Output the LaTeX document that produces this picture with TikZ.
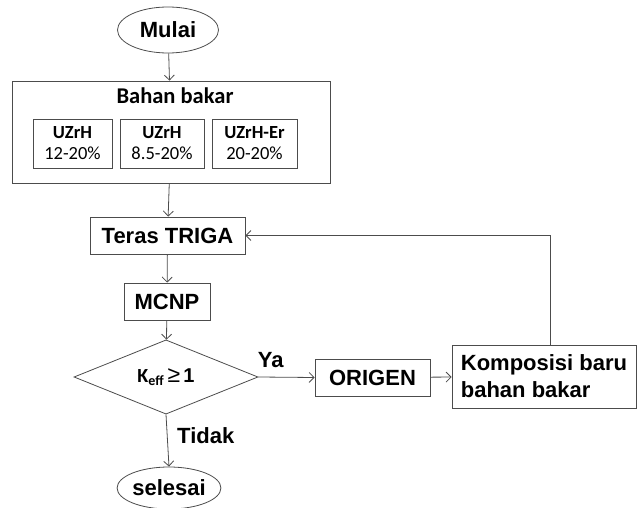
\documentclass[tikz,border=0pt]{standalone}
\usepackage{fontspec}
\setmainfont{Liberation Sans}
\newfontfamily\calibri{Carlito}
\usetikzlibrary{shapes.geometric,arrows.meta,positioning}

\tikzset{
  kotak/.style={rectangle, draw=black!70, line width=0.8pt, inner sep=0pt,
    font=\bfseries\fontsize{22}{27}\selectfont},
  bulat/.style={ellipse, draw=black!70, line width=0.8pt, inner sep=0pt,
    font=\bfseries\fontsize{22}{26}\selectfont},
  kecil/.style={rectangle, draw=black!70, line width=0.8pt, inner sep=0pt,
    minimum height=49pt, align=center, font=\calibri\fontsize{18.5}{21}\selectfont},
  panah/.style={draw=black!70, line width=0.8pt, -{Straight Barb[length=5pt,width=10pt]}},
  label/.style={font=\bfseries\fontsize{22}{26}\selectfont}
}

\begin{document}
\begin{tikzpicture}[x=1pt, y=-1pt]
    \useasboundingbox (0,0) rectangle (638,508);

    \node[bulat, minimum width=101pt, minimum height=46pt] (mulai) at (168,30) {Mulai};
    \node[kotak, minimum width=318pt, minimum height=102pt] (bahan) at (171,132) {};
    \node[font=\calibri\bfseries\fontsize{22.5}{26}\selectfont] (judul) at (175,96) {Bahan bakar};
    \node[kecil, minimum width=79pt] (uzrh1) at (72.5,143.5) {\textbf{UZrH}\\12-20\%};
    \node[kecil, minimum width=84pt] (uzrh2) at (162,143.5) {\textbf{UZrH}\\8.5-20\%};
    \node[kecil, minimum width=85pt] (uzrh3) at (254.5,143.5) {\textbf{UZrH-Er}\\20-20\%};

    \node[kotak, minimum width=155pt, minimum height=37pt] (teras) at (167.5,235.5) {Teras TRIGA};
    \node[kotak, minimum width=86pt, minimum height=37pt] (mcnp) at (167,301.5) {MCNP};
    \node[diamond, draw=black!70, line width=0.8pt, inner sep=0pt,
          minimum width=184pt, minimum height=61pt,
          font=\bfseries\fontsize{20}{24}\selectfont] (keff) at (166,377)
          {{\calibri K\textsubscript{eff}}\,{\mdseries\fontsize{23}{24}\selectfont ≥}\,1};
    \node[kotak, minimum width=115pt, minimum height=37pt] (origen) at (372.5,377.5) {ORIGEN};
    \node[kotak, minimum width=184pt, minimum height=63pt, align=left] (komposisi) at (544,376.5)
          {Komposisi baru\\bahan bakar};
    \node[bulat, minimum width=102pt, minimum height=42pt] (selesai) at (169,488) {selesai};

    \draw[panah] (mulai) -- (bahan);
    \draw[panah] (bahan) -- (teras);
    \draw[panah] (teras) -- (mcnp);
    \draw[panah] (mcnp) -- (keff);
    \draw[panah] (keff.east) -- node[label, pos=0.22, above=6pt] {Ya} (origen.west);
    \draw[panah] (origen) -- (komposisi);
    \draw[panah] ([xshift=6pt]komposisi.north) |- (teras.east);
    \draw[panah] (keff.south) -- node[label, midway, right=6pt, yshift=5pt] {Tidak} (selesai.north);
\end{tikzpicture}
\end{document}
